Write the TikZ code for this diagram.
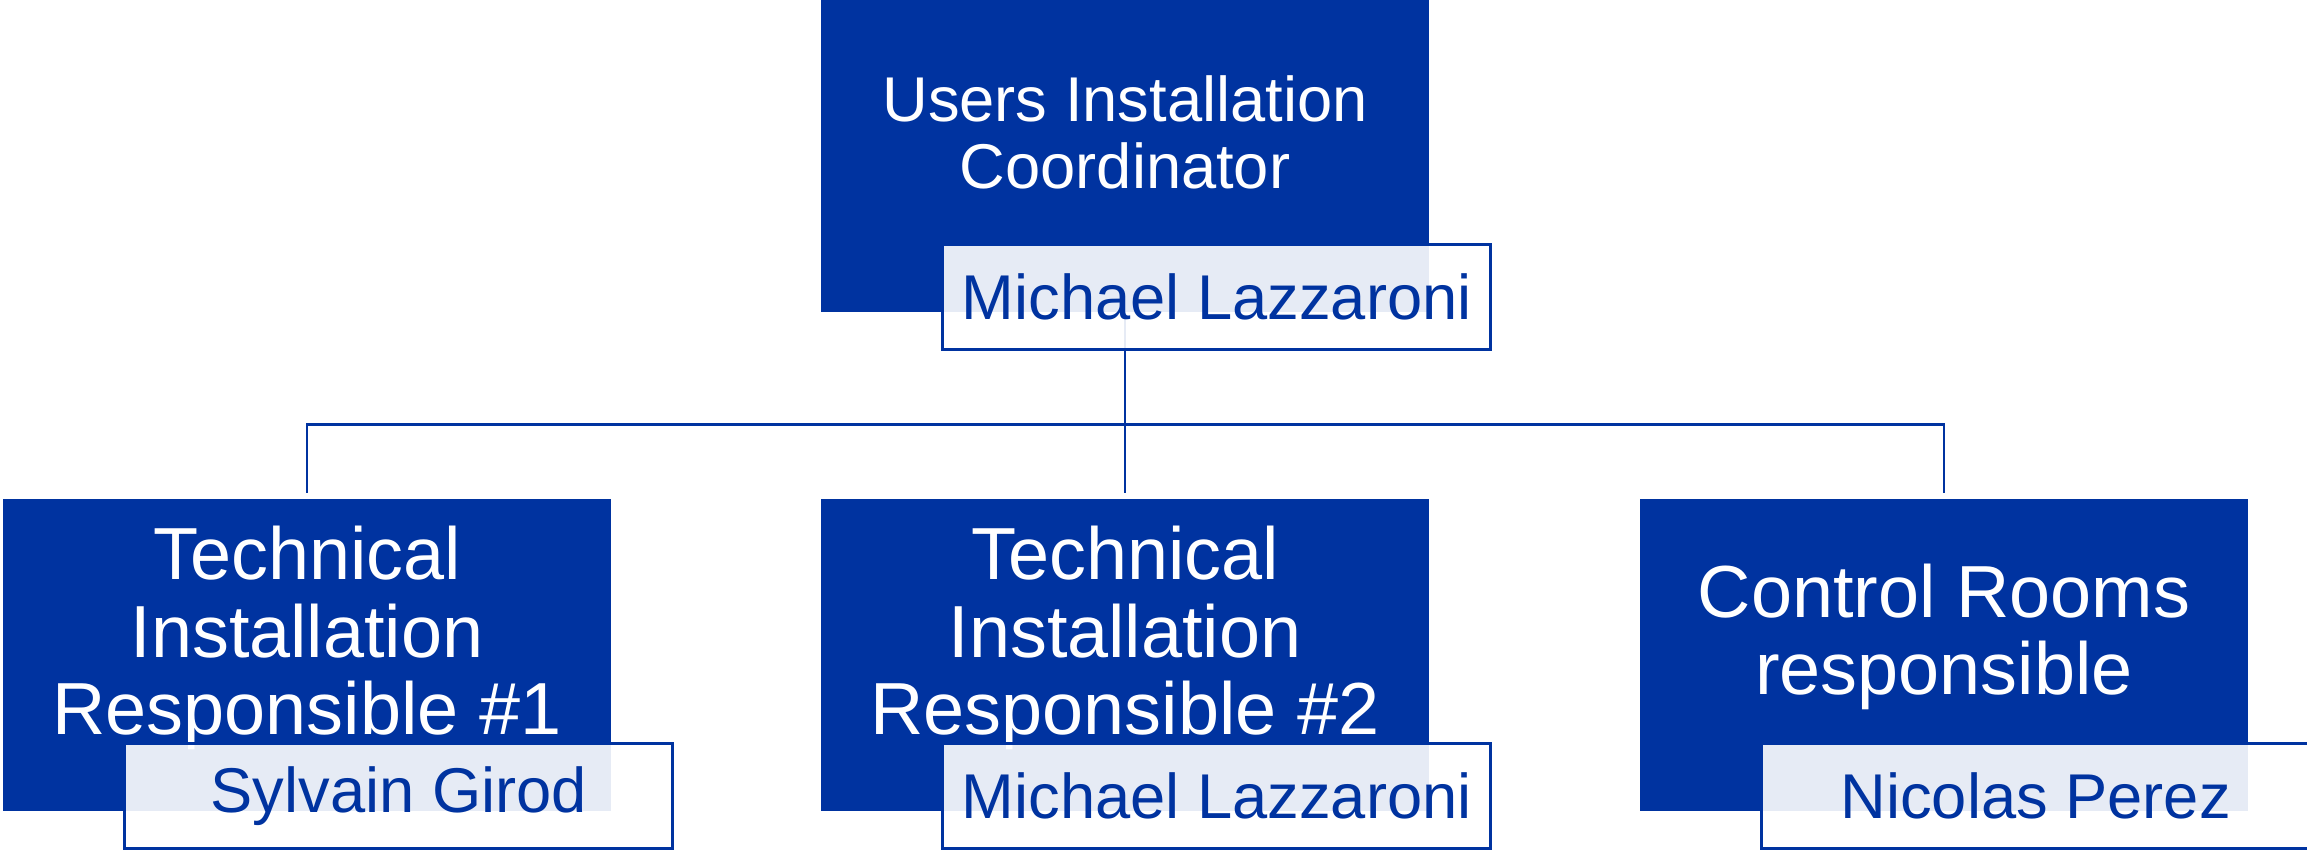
\documentclass[tikz,border=0pt]{standalone}
\usepackage{fontspec}
\setmainfont{Liberation Sans}
\definecolor{orgblue}{HTML}{0033A0}
\tikzset{
    rolebox/.style={rectangle, fill=orgblue, minimum width=6.08cm, minimum height=3.12cm, inner sep=0pt},
    roletext/.style={text=white, align=center, font=\fontsize{21}{22}\selectfont},
    namebox/.style={rectangle, draw=orgblue, line width=0.8pt, fill=white, fill opacity=0.9, text opacity=1,
        text=orgblue, minimum width=5.48cm, minimum height=1.05cm, inner sep=0pt, font=\fontsize{18}{19}\selectfont},
    link/.style={draw=orgblue, line width=0.7pt}
}
\begin{document}
\begin{tikzpicture}
    \useasboundingbox (0,0) rectangle (23.07,-8.51);

    % --- Role boxes ---
    \node[rolebox] (uic) at (11.25,-1.56) {};
    \node[rolebox] (tir1) at (3.07,-6.55) {};
    \node[rolebox] (tir2) at (11.25,-6.55) {};
    \node[rolebox] (crr) at (19.44,-6.55) {};

    % Connectors (under the name boxes)
    \foreach \b in {tir1,tir2,crr} \draw[link] (uic.south) -- ++(0,-1.12) -| ([yshift=0.05cm]\b.north);

    % Titles
    \node[roletext, font=\fontsize{18}{19}\selectfont] (uictxt) at ([yshift=0.24cm]uic.center) {Users Installation\\Coordinator};
    \node[roletext] (tir1txt) at ([yshift=0.17cm]tir1.center) {Technical\\Installation\\Responsible \#1};
    \node[roletext] (tir2txt) at ([yshift=0.17cm]tir2.center) {Technical\\Installation\\Responsible \#2};
    \node[roletext] (crrtxt) at ([yshift=0.18cm]crr.center) {Control Rooms\\responsible};

    % --- Names ---
    \node[namebox] (uicname) at ([shift={(-2.13,0.16)}]uic.south east) {Michael Lazzaroni};
    \node[namebox] (tir1name) at ([shift={(-2.13,0.16)}]tir1.south east) {Sylvain Girod};
    \node[namebox] (tir2name) at ([shift={(-2.13,0.16)}]tir2.south east) {Michael Lazzaroni};
    \node[namebox] (crrname) at ([shift={(-2.13,0.16)}]crr.south east) {Nicolas Perez};
\end{tikzpicture}
\end{document}
